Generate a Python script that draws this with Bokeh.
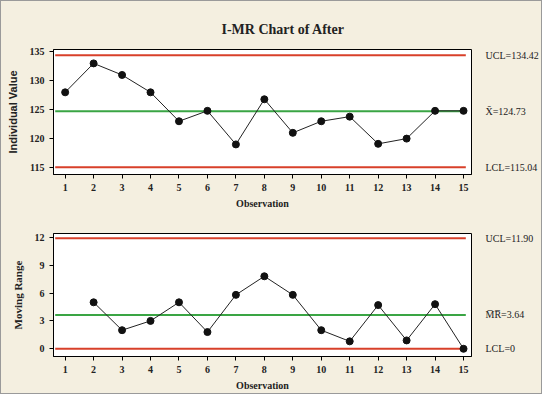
from bokeh.plotting import figure
from bokeh.models import LinearAxis, FixedTicker, Title, Range1d
from bokeh.layouts import column
from bokeh.embed import file_html
from bokeh.resources import INLINE

obs = list(range(1, 16))
individual = [128.0, 133.0, 131.0, 128.0, 123.0, 124.8, 119.0, 126.8, 121.0, 123.0, 123.8, 119.1, 120.0, 124.8, 124.8]
mr_obs = list(range(2, 16))
moving_range = [5.0, 2.0, 3.0, 5.0, 1.8, 5.8, 7.8, 5.8, 2.0, 0.8, 4.7, 0.9, 4.8, 0.0]
i_limits = [134.42, 124.73, 115.04]
i_limit_labels = ["UCL=134.42", "X\u0304=124.73", "LCL=115.04"]
mr_limits = [11.90, 3.64, 0.0]
mr_limit_labels = ["UCL=11.90", "M\u0305R\u0305=3.64", "LCL=0"]
i_ticks = [115, 120, 125, 130, 135]
mr_ticks = [0, 3, 6, 9, 12]

BG = "#f4efe0"
RED = "#d8402a"
GREEN = "#3aa544"
SERIF = "Liberation Serif"


def make_fig(height, yr, yticks, ylab, ylab_font, ylab_size, vals_x, vals_y, limits, labels, top, bottom):
    p = figure(width=540, height=height, output_backend="svg", toolbar_location=None,
               x_range=Range1d(0.59, 15.28), y_range=Range1d(*yr),
               min_border_left=52, min_border_right=60, min_border_top=top, min_border_bottom=bottom)
    p.background_fill_color = "white"
    p.border_fill_color = BG
    p.outline_line_color = "black"
    p.outline_line_width = 1
    p.xgrid.visible = False
    p.ygrid.visible = False
    for ax in (p.xaxis[0], p.yaxis[0]):
        ax.axis_line_color = "black"
        ax.major_tick_line_color = "black"
        ax.minor_tick_line_color = None
        ax.major_tick_out = 4
        ax.major_tick_in = 0
        ax.major_label_text_font = SERIF
        ax.major_label_text_font_size = "10px"
        ax.major_label_text_font_style = "bold"
        ax.major_label_text_color = "#222222"
        ax.axis_label_text_color = "#222222"
        ax.axis_label_text_font_style = "bold"
    p.xaxis.ticker = FixedTicker(ticks=obs)
    p.xaxis.axis_label = "Observation"
    p.xaxis.axis_label_text_font = SERIF
    p.xaxis.axis_label_text_font_size = "10px"
    p.xaxis.axis_label_standoff = 4
    p.yaxis.ticker = FixedTicker(ticks=yticks)
    p.yaxis.axis_label = ylab
    p.yaxis.axis_label_text_font = ylab_font
    p.yaxis.axis_label_text_font_size = ylab_size
    p.yaxis.axis_label_standoff = 8

    lx = [obs[0] - 0.35, obs[-1] + 0.08]
    p.line(lx, [limits[0]] * 2, line_color=RED, line_width=2)
    p.line(lx, [limits[2]] * 2, line_color=RED, line_width=2)
    p.line(lx, [limits[1]] * 2, line_color=GREEN, line_width=2)

    p.line(vals_x, vals_y, line_color="#222222", line_width=1)
    p.scatter(vals_x, vals_y, size=7, fill_color="#111111", line_color="#111111")

    rax = LinearAxis(ticker=FixedTicker(ticks=limits),
                     major_label_overrides={v: t for v, t in zip(limits, labels)})
    rax.axis_line_color = None
    rax.major_tick_line_color = None
    rax.minor_tick_line_color = None
    rax.major_label_standoff = 8
    rax.major_label_text_font = SERIF
    rax.major_label_text_font_size = "10px"
    rax.major_label_text_color = "#222222"
    p.add_layout(rax, "right")
    return p


p1 = make_fig(210, (113.8, 135.4), i_ticks, "Individual Value", "Liberation Sans", "11px",
              obs, individual, i_limits, i_limit_labels, 48, 33)
t = Title(text="I-MR Chart of After", align="left", text_font=SERIF,
          text_font_size="14px", text_font_style="bold", text_color="#222222",
          offset=168, standoff=26)
p1.add_layout(t, "above")

p2 = make_fig(182, (-0.83, 12.4), mr_ticks, "Moving Range", SERIF, "11px",
              mr_obs, moving_range, mr_limits, mr_limit_labels, 22, 32)

layout = column(p1, p2, spacing=0,
                styles={"background-color": BG, "border": "1px solid #9a9a9a"})
open("out.html", "w").write(file_html(layout, INLINE))
